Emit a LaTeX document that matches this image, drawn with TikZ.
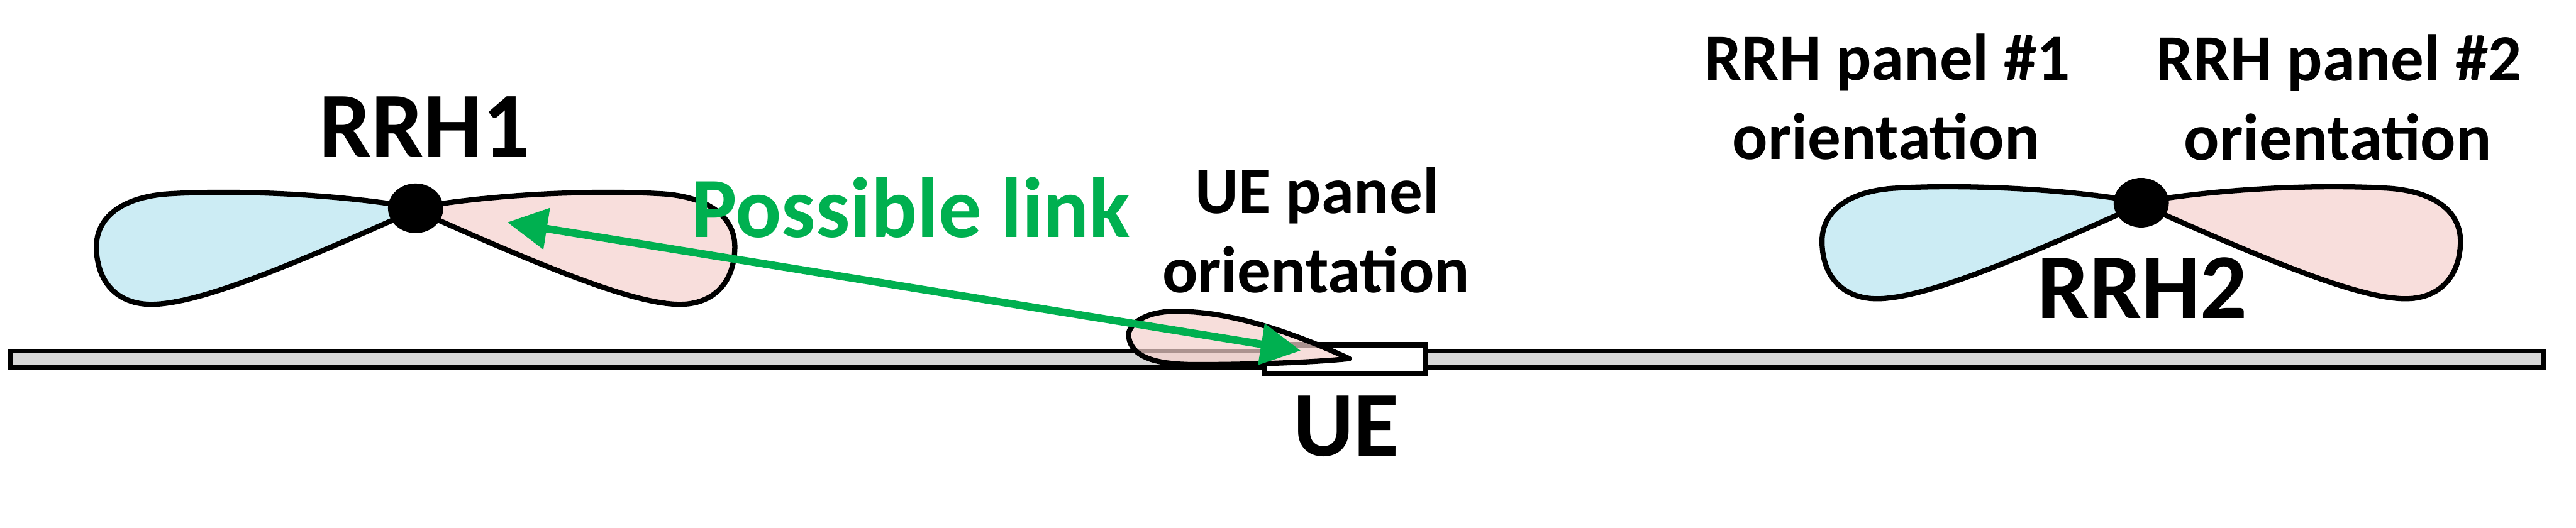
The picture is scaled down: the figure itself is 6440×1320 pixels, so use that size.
\documentclass[tikz,border=0pt]{standalone}
\usepackage{fontspec}
\setmainfont{Carlito}
\usetikzlibrary{arrows.meta,shapes.geometric}
\definecolor{lobeblue}{RGB}{204,236,244}
\definecolor{lobepink}{RGB}{248,222,220}
\definecolor{uepink}{RGB}{245,208,205}
\definecolor{linkgreen}{RGB}{0,176,80}
\definecolor{roadgray}{RGB}{215,215,215}
\tikzset{
  lobeline/.style={draw=black, line width=0.13cm, line join=round},
  pics/lobe/.style={code={
    \draw[lobeline, fill=#1] (-40,-8) .. controls (-250,-40) and (-480,-45) .. (-620,-36)
      .. controls (-730,-28) and (-800,20) .. (-798,100)
      .. controls (-796,190) and (-740,245) .. (-649,240)
      .. controls (-540,234) and (-350,160) .. (-40,22) -- cycle;
  }},
  dotnode/.style={ellipse, fill=black, inner sep=0, minimum width=1.38cm, minimum height=1.24cm},
  bigtxt/.style={font=\fontsize{66}{79}\selectfont\bfseries, inner sep=0, anchor=base},
  midtxt/.style={font=\fontsize{47}{56}\selectfont\bfseries, inner sep=0, anchor=base},
  linktxt/.style={font=\fontsize{61}{73}\selectfont\bfseries, text=linkgreen, inner sep=0, anchor=base},
  linkarrow/.style={draw=linkgreen, line width=0.19cm,
    {Triangle[length=1cm,width=1cm]}-{Triangle[length=1cm,width=1cm]}},
  road/.style={draw=black, line width=0.12cm, fill=roadgray},
  uebox/.style={draw=black, line width=0.13cm, fill=white, inner sep=0,
    minimum width=4.02cm, minimum height=0.71cm}
}
\begin{document}
\begin{tikzpicture}[x=0.01cm, y=-0.01cm]
\useasboundingbox (0,0) rectangle (6440,1320);
\fill[white] (0,0) rectangle (6440,1320);
% road
\draw[road] (26,878) rectangle (6360,920);
% UE box
\node[uebox] (uebox) at (3362.5,898) {};
% UE panel lobe
\draw[lobeline, fill=uepink, fill opacity=0.7] (3373,897)
  .. controls (3250,840) and (3080,775) .. (2930,779)
  .. controls (2850,781) and (2815,820) .. (2822,845)
  .. controls (2830,890) and (2880,912) .. (2990,912)
  .. controls (3150,912) and (3300,905) .. (3373,897) -- cycle;
% RRH lobes
\pic at (1039,521) {lobe=lobeblue};
\pic[xscale=-1] at (1039,521) {lobe=lobepink};
\pic at (5353,507) {lobe=lobeblue};
\pic[xscale=-1] at (5353,507) {lobe=lobepink};
% RRH dots
\node[dotnode] (rrh1dot) at (1039,521) {};
\node[dotnode] (rrh2dot) at (5353,507) {};
% link
\coordinate (linkA) at (1268,556);
\coordinate (linkB) at (3252,877);
\draw[linkarrow] (linkA) -- (linkB);
% labels
\node[bigtxt] (rrh1) at (1061,393) {RRH1};
\node[bigtxt] (rrh2) at (5356,796) {RRH2};
\node[bigtxt] (ue) at (3365,1141) {UE};
\node[linktxt] (link) at (2277,594) {Possible link};
\node[midtxt] (uepanelA) at (3293,534) {UE panel};
\node[midtxt] (uepanelB) at (3290,732) {orientation};
\node[midtxt] (p1A) at (4719,200) {RRH panel \#1};
\node[midtxt] (p1B) at (4715,398) {orientation};
\node[midtxt] (p2A) at (5847,202) {RRH panel \#2};
\node[midtxt] (p2B) at (5844,400) {orientation};
\end{tikzpicture}
\end{document}
